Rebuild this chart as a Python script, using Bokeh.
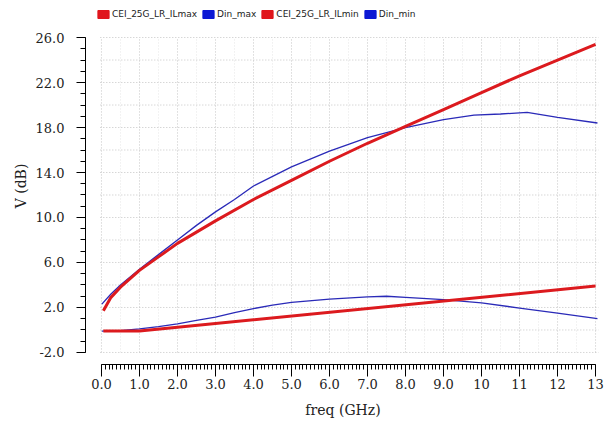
import numpy as np
from bokeh.plotting import figure
from bokeh.models import (Range1d, FixedTicker, PrintfTickFormatter, Legend, LegendItem)
from bokeh.embed import file_html
from bokeh.resources import INLINE

# ---- data ----
f_ilmax = [0.05, 0.25, 0.5, 1.0, 1.5, 2.0, 3.0, 4.0, 5.0, 6.0, 7.0, 8.0, 9.0, 10.0, 11.0, 12.0, 13.0]
ilmax = [1.7, 2.9, 3.8, 5.3, 6.5, 7.7, 9.7, 11.6, 13.3, 15.0, 16.6, 18.1, 19.6, 21.1, 22.6, 24.0, 25.4]

f_ilmin = [0.05, 1.0, 13.0]
ilmin = [-0.1, -0.1, 3.9]

f_din = [0.01, 0.25, 0.5, 1.0, 1.5, 2.0, 2.5, 3.0, 3.5, 4.0, 5.0, 6.0, 7.0, 8.0, 9.0, 9.8, 10.5, 11.2, 12.0, 13.05]
din_max = [2.3, 3.2, 4.0, 5.4, 6.7, 8.0, 9.3, 10.5, 11.6, 12.8, 14.5, 15.9, 17.1, 18.0, 18.7, 19.1, 19.2, 19.35, 18.9, 18.4]

f_dmin = [0.01, 0.5, 1.0, 1.5, 2.0, 2.5, 3.0, 3.5, 4.0, 4.5, 5.0, 6.0, 7.0, 7.5, 8.0, 9.0, 10.0, 11.0, 12.0, 13.05]
din_min = [-0.1, -0.05, 0.1, 0.3, 0.55, 0.85, 1.15, 1.55, 1.9, 2.2, 2.45, 2.75, 2.95, 3.0, 2.9, 2.7, 2.4, 1.95, 1.5, 1.0]

x_major = list(range(0, 14))
x_labels = ["0.0", "1.0", "2.0", "3.0", "4.0", "5.0", "6.0", "7.0", "8.0", "9.0", "10", "11", "12", "13"]
y_major = [-2, 2, 6, 10, 14, 18, 22, 26]
x_grid = list(range(0, 14))
x_grid_minor = [i + 0.5 for i in range(0, 13)]
y_grid = list(range(-2, 27, 2))

legend_names = ["CEI_25G_LR_ILmax", "Din_max", "CEI_25G_LR_ILmin", "Din_min"]

RED = "#dc1a1e"
BLUE = "#2a2ab8"
LEG_RED = "#e0161c"
LEG_BLUE = "#0c18d4"

FW, FH = 515, 357
p = figure(frame_width=FW, frame_height=FH, output_backend="svg", toolbar_location=None,
           x_range=Range1d(-0.42, 13.13), y_range=Range1d(-3.07, 28.67),
           min_border_left=85, min_border_top=7, min_border_right=6, min_border_bottom=4)
p.xgrid.visible = False
p.ygrid.visible = False
p.outline_line_color = None
p.background_fill_color = "white"
p.border_fill_color = "white"

# grid lines (dotted)
gx0, gx1 = -0.03, 13.08
gy0, gy1 = -2.0, 26.0
p.segment(x0=x_grid_minor, y0=[gy0] * len(x_grid_minor), x1=x_grid_minor, y1=[gy1] * len(x_grid_minor),
          line_color="#e6e6e6", line_width=1, line_dash="1 2")
p.segment(x0=x_grid, y0=[gy0] * len(x_grid), x1=x_grid, y1=[gy1] * len(x_grid),
          line_color="#c4c4c4", line_width=1, line_dash="1 2")
p.segment(x0=[gx0] * len(y_grid), y0=y_grid, x1=[gx1] * len(y_grid), y1=y_grid,
          line_color="#c4c4c4", line_width=1, line_dash="1 2")

# curves
p.line(f_din, din_max, line_color=BLUE, line_width=1.3)
p.line(f_dmin, din_min, line_color=BLUE, line_width=1.3)
p.line(f_ilmax, ilmax, line_color=RED, line_width=3)
p.line(f_ilmin, ilmin, line_color=RED, line_width=3)

# legend swatches (placeholder renderers with a single NaN entry -> nothing drawn in the plot)
nan = np.array([np.nan])
leg_colors = [LEG_RED, LEG_BLUE, LEG_RED, LEG_BLUE]
items = []
for name, c in zip(legend_names, leg_colors):
    r = p.quad(left=nan, right=nan, top=nan, bottom=nan, fill_color=c, line_color=c)
    items.append(LegendItem(label=name, renderers=[r]))
legend = Legend(items=items, orientation="horizontal", location=(11, FH - 12),
                margin=0, padding=0, spacing=4, label_standoff=2,
                glyph_width=14, glyph_height=10, label_height=10,
                label_text_font="DejaVu Sans", label_text_font_size="9px",
                label_text_color="#222222",
                border_line_color=None, background_fill_alpha=0)
p.add_layout(legend)

# axes
xa = p.xaxis[0]
xa.ticker = FixedTicker(ticks=x_major, minor_ticks=[i / 10 for i in range(0, 131)])
xa.major_label_overrides = {t: l for t, l in zip(x_major, x_labels)}
xa.bounds = (0, 13)
xa.major_tick_out = 12
xa.major_tick_in = 0
xa.minor_tick_out = 5
xa.minor_tick_in = 0
xa.major_label_standoff = 2
xa.axis_label = "freq (GHz)"
xa.axis_label_standoff = 10

ya = p.yaxis[0]
ya.ticker = FixedTicker(ticks=y_major, minor_ticks=list(range(-2, 27)))
ya.formatter = PrintfTickFormatter(format="%.1f")
ya.bounds = (-2, 26)
ya.major_tick_out = 9
ya.major_tick_in = 0
ya.minor_tick_out = 5
ya.minor_tick_in = 0
ya.major_label_standoff = 12
ya.axis_label = "V (dB)"
ya.axis_label_standoff = 4

for ax in (xa, ya):
    ax.axis_line_color = "black"
    ax.major_tick_line_color = "black"
    ax.minor_tick_line_color = "black"
    ax.major_label_text_font = "DejaVu Serif"
    ax.major_label_text_font_size = "13px"
    ax.major_label_text_color = "#222222"
    ax.axis_label_text_font = "DejaVu Serif"
    ax.axis_label_text_font_size = "14px"
    ax.axis_label_text_font_style = "normal"
    ax.axis_label_text_color = "#222222"

open("out.html", "w").write(file_html(p, INLINE))
